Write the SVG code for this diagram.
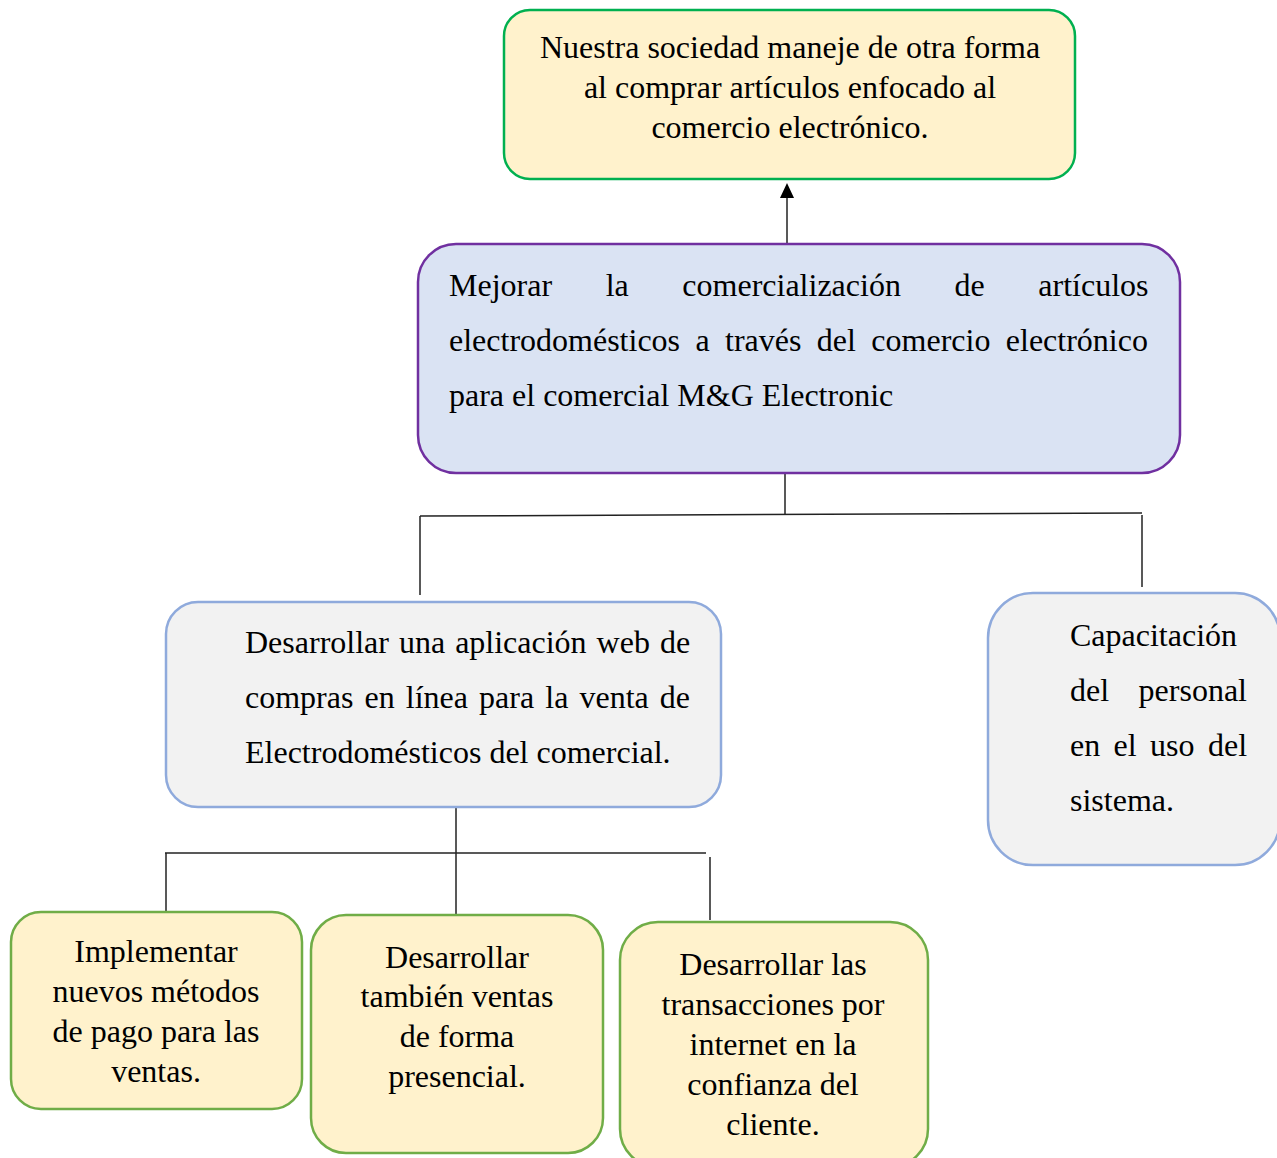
<svg xmlns="http://www.w3.org/2000/svg" width="1277" height="1158" viewBox="0 0 1277 1158">
<style>
text{font-family:"Liberation Serif","Times New Roman",serif;font-size:32px;fill:#000}
.c{text-anchor:middle}
.box{stroke-width:2.5}
.goal{fill:#FFF2CC;stroke:#00B050}
.purp{fill:#DAE3F3;stroke:#7030A0}
.comp{fill:#F2F2F2;stroke:#8FAADC}
.act{fill:#FFF2CC;stroke:#70AD47}
.ln{stroke:#222;stroke-width:1.5;fill:none}
</style>
<defs>
<marker id="arr" markerUnits="userSpaceOnUse" markerWidth="16" markerHeight="14" refX="0" refY="7" orient="auto" viewBox="0 0 16 14">
<path d="M0,0 L15,7 L0,14 Z" fill="#000"/>
</marker>
</defs>
<g id="connectors">
<line class="ln" x1="787" y1="243" x2="787" y2="198" marker-end="url(#arr)"/>
<line class="ln" x1="785" y1="474" x2="785" y2="514"/>
<line class="ln" x1="420" y1="516" x2="1142" y2="513"/>
<line class="ln" x1="420" y1="516" x2="420" y2="595"/>
<line class="ln" x1="1142" y1="515" x2="1142" y2="587"/>
<line class="ln" x1="456" y1="808" x2="456" y2="915"/>
<line class="ln" x1="165" y1="853" x2="706" y2="853"/>
<line class="ln" x1="166" y1="853" x2="166" y2="911"/>
<line class="ln" x1="710" y1="857" x2="710" y2="920"/>
</g>
<g id="n-fin">
<rect class="box goal" x="504" y="10" width="571" height="169" rx="26"/>
<text class="c" x="790" y="58">Nuestra sociedad maneje de otra forma</text>
<text class="c" x="790" y="98">al comprar artículos enfocado al</text>
<text class="c" x="790" y="138">comercio electrónico.</text>
</g>
<g id="n-proposito">
<rect class="box purp" x="418" y="244" width="762" height="229" rx="38"/>
<text x="449" y="296" word-spacing="45.6">Mejorar la comercialización de artículos</text>
<text x="449" y="351" word-spacing="7.4">electrodomésticos a través del comercio electrónico</text>
<text x="449" y="406">para el comercial M&amp;G Electronic</text>
</g>
<g id="n-componente1">
<rect class="box comp" x="166" y="602" width="555" height="205" rx="32"/>
<text x="245" y="653" word-spacing="2">Desarrollar una aplicación web de</text>
<text x="245" y="708" word-spacing="3.1">compras en línea para la venta de</text>
<text x="245" y="763">Electrodomésticos del comercial.</text>
</g>
<g id="n-componente2">
<rect class="box comp" x="988" y="593" width="292" height="272" rx="45"/>
<text x="1070" y="646">Capacitación</text>
<text x="1070" y="701" word-spacing="21.5">del personal</text>
<text x="1070" y="756" word-spacing="5.4">en el uso del</text>
<text x="1070" y="811">sistema.</text>
</g>
<g id="n-actividad1">
<rect class="box act" x="11" y="912" width="291" height="197" rx="30"/>
<text class="c" x="156" y="962">Implementar</text>
<text class="c" x="156" y="1002">nuevos métodos</text>
<text class="c" x="156" y="1042">de pago para las</text>
<text class="c" x="156" y="1082">ventas.</text>
</g>
<g id="n-actividad2">
<rect class="box act" x="311" y="915" width="292" height="238" rx="35"/>
<text class="c" x="457" y="968">Desarrollar</text>
<text class="c" x="457" y="1007">también ventas</text>
<text class="c" x="457" y="1047">de forma</text>
<text class="c" x="457" y="1087">presencial.</text>
</g>
<g id="n-actividad3">
<rect class="box act" x="620" y="922" width="308" height="245" rx="38"/>
<text class="c" x="773" y="975">Desarrollar las</text>
<text class="c" x="773" y="1015">transacciones por</text>
<text class="c" x="773" y="1055">internet en la</text>
<text class="c" x="773" y="1095">confianza del</text>
<text class="c" x="773" y="1135">cliente.</text>
</g>
</svg>
